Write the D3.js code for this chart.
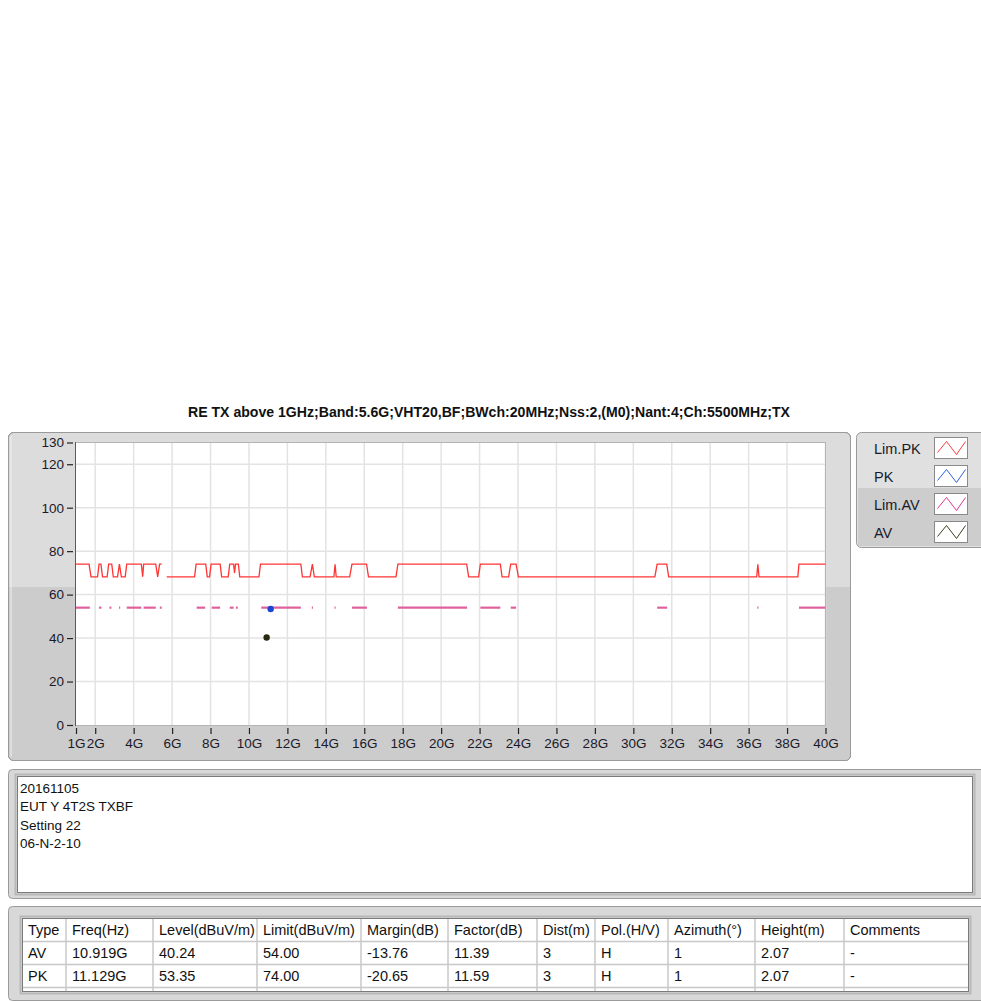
<!DOCTYPE html>
<html><head><meta charset="utf-8">
<script src="https://cdn.jsdelivr.net/npm/d3@7"></script>
<style>
html,body{margin:0;padding:0;background:#fff;}
svg{display:block;font-family:"Liberation Sans",Arial,sans-serif;}
</style></head>
<body>
<svg id="c" width="981" height="1002"></svg>
<script>
// ---------- DATA ----------
const title = "RE TX above 1GHz;Band:5.6G;VHT20,BF;BWch:20MHz;Nss:2,(M0);Nant:4;Ch:5500MHz;TX";
const xTicks = [1,2,4,6,8,10,12,14,16,18,20,22,24,26,28,30,32,34,36,38,40];
const yTicks = [0,20,40,60,80,100,120,130];
// Lim.PK trace (GHz, dBuV/m); null = gap
const limPkFreq = [1.00,1.68,1.78,2.12,2.20,2.30,2.38,2.62,2.70,2.86,2.94,3.16,3.26,3.36,3.56,3.64,4.40,4.47,4.52,5.15,5.25,5.35,5.46,5.60,
  5.72,7.17,7.25,7.75,7.83,7.95,8.03,8.50,8.58,8.92,9.00,9.20,9.25,9.30,9.45,9.52,10.52,10.60,12.70,12.78,13.18,13.30,13.40,
  14.42,14.48,14.54,15.24,15.36,16.12,16.22,17.65,17.75,21.33,21.43,21.95,22.04,23.08,23.17,23.51,23.62,23.90,24.02,
  31.12,31.24,31.74,31.84,36.42,36.48,36.54,38.56,38.62,40.00];
const limPkLevel = [74,74,68.2,68.2,74,74,68.2,68.2,74,74,68.2,68.2,74,68.2,68.2,74,74,68.2,74,74,68.2,74,74,null,
  68.2,68.2,74,74,68.2,68.2,74,74,68.2,68.2,74,74,70,74,74,68.2,68.2,74,74,68.2,68.2,74,68.2,
  68.2,74,68.2,68.2,74,74,68.2,68.2,74,74,68.2,68.2,74,74,68.2,68.2,74,74,68.2,
  68.2,74,74,68.2,68.2,74,68.2,68.2,74,74];
// Lim.AV trace segments (GHz start, GHz end) at level 54
const limAvStart = [1.00,2.20,2.74,3.24,3.64,4.52,5.36,7.28,8.06,9.00,9.32,10.64,13.27,14.45,15.36,17.75,22.04,23.62,31.24,36.45,38.62];
const limAvEnd   = [1.72,2.32,2.84,3.30,4.40,5.15,5.46,7.72,8.50,9.20,9.42,12.70,13.33,14.51,16.14,21.35,23.08,23.90,31.76,36.51,40.00];
const limAvLevel = 54;
// measured points
const pkFreq = [11.129], pkLevel = [53.35];
const avFreq = [10.919], avLevel = [40.24];
const legendNames = ["Lim.PK","PK","Lim.AV","AV"];
const legendColors = ["#ff3a3a","#2f5fe0","#e0338e","#3c3c1e"];
const notes = ["20161105","EUT Y 4T2S TXBF","Setting 22","06-N-2-10"];
const tableHeader = ["Type","Freq(Hz)","Level(dBuV/m)","Limit(dBuV/m)","Margin(dB)","Factor(dB)","Dist(m)","Pol.(H/V)","Azimuth(°)","Height(m)","Comments"];
const rowAV = ["AV","10.919G","40.24","54.00","-13.76","11.39","3","H","1","2.07","-"];
const rowPK = ["PK","11.129G","53.35","74.00","-20.65","11.59","3","H","1","2.07","-"];

// ---------- DRAW ----------
const svg = d3.select("#c");
const PL=75, PR=826, PT=442, PB=726;
const x = d3.scaleLinear().domain([1,40]).range([76,825.5]);
const y = d3.scaleLinear().domain([0,130]).range([725,442.5]);

// title
svg.append("text").attr("x",489).attr("y",417).attr("text-anchor","middle")
  .attr("font-weight","bold").attr("font-size",14).attr("fill","#111")
  .attr("textLength",602).attr("lengthAdjust","spacingAndGlyphs").text(title);

// plot panel
const panel = svg.append("g");
panel.append("rect").attr("x",8.5).attr("y",432.5).attr("width",842).attr("height",328).attr("rx",5)
  .attr("fill","#dcdcdc").attr("stroke","#9a9a9a");
panel.append("path").attr("d","M9,587 H850 V755 Q850,760 845,760 H14 Q9,760 9,755 Z").attr("fill","#cccccc");
panel.append("rect").attr("x",8.5).attr("y",432.5).attr("width",842).attr("height",328).attr("rx",5)
  .attr("fill","none").attr("stroke","#9a9a9a");
panel.append("line").attr("x1",11).attr("x2",11).attr("y1",436).attr("y2",757).attr("stroke","#f0f0f0");

// plot area
svg.append("rect").attr("x",PL).attr("y",PT).attr("width",PR-PL).attr("height",PB-PT).attr("fill","#fff");
const grid = svg.append("g").attr("stroke","#e3e3e3").attr("stroke-width",1.5);
xTicks.filter(t=>t>1).forEach(t=>grid.append("line").attr("x1",x(t)).attr("x2",x(t)).attr("y1",PT).attr("y2",PB));
yTicks.filter(t=>t>0&&t<130).forEach(t=>grid.append("line").attr("x1",PL).attr("x2",PR).attr("y1",y(t)).attr("y2",y(t)));
svg.append("rect").attr("x",PL+0.5).attr("y",PT+0.5).attr("width",PR-PL-1).attr("height",PB-PT-1)
  .attr("fill","none").attr("stroke","#b4b4b4");
svg.append("line").attr("x1",PL+0.5).attr("x2",PL+0.5).attr("y1",PT).attr("y2",PB).attr("stroke","#5a5a5a");

// axes
const yAxis = d3.axisLeft(y).tickValues(yTicks).tickSize(6).tickPadding(3).tickFormat(d3.format("d"));
const gy = svg.append("g").attr("transform",`translate(${PL-2},0)`).call(yAxis);
gy.select(".domain").remove();
gy.selectAll("line").attr("stroke","#222").attr("stroke-width",1.2);
gy.selectAll("text").attr("font-size",13.5).attr("fill","#1a1a2a").attr("font-family","Liberation Sans, Arial, sans-serif");

const xAxis = d3.axisBottom(x).tickValues(xTicks).tickSize(6).tickPadding(4).tickFormat(d=>d+"G");
const gx = svg.append("g").attr("transform",`translate(0,${PB+2})`).call(xAxis);
gx.select(".domain").remove();
gx.selectAll("line").attr("stroke","#222").attr("stroke-width",1.2);
gx.selectAll("text").attr("font-size",13.5).attr("fill","#1a1a2a").attr("font-family","Liberation Sans, Arial, sans-serif");

// clip
svg.append("clipPath").attr("id","pc").append("rect").attr("x",PL+1).attr("y",PT).attr("width",PR-PL-1).attr("height",PB-PT);
const plot = svg.append("g").attr("clip-path","url(#pc)");

// Lim.AV segments
const avSegs = limAvStart.map((s,i)=>[[s,limAvLevel],[limAvEnd[i],limAvLevel]]);
const segLine = d3.line().x(d=>x(d[0])).y(d=>y(d[1]));
plot.selectAll(".av").data(avSegs).join("path").attr("d",segLine)
  .attr("stroke","#e0609e").attr("stroke-width",2.2).attr("fill","none");

// Lim.PK line
const pkData = limPkFreq.map((f,i)=>[f,limPkLevel[i]]);
const pkLine = d3.line().defined(d=>d[1]!=null).x(d=>x(d[0])).y(d=>y(d[1]));
plot.append("path").datum(pkData).attr("d",pkLine).attr("fill","none")
  .attr("stroke","#ff3535").attr("stroke-width",1.3);

// points
plot.selectAll(".pk").data(pkFreq).join("circle").attr("cx",d=>x(d)).attr("cy",(d,i)=>y(pkLevel[i]))
  .attr("r",3.2).attr("fill","#1a47d6");
plot.selectAll(".avp").data(avFreq).join("circle").attr("cx",d=>x(d)).attr("cy",(d,i)=>y(avLevel[i]))
  .attr("r",3.2).attr("fill","#2a2a10");

// legend
const lg = svg.append("g");
lg.append("rect").attr("x",856.5).attr("y",432.5).attr("width",135).attr("height",115).attr("rx",5)
  .attr("fill","#e0e0e0").attr("stroke","#9a9a9a");
lg.append("rect").attr("x",858).attr("y",488).attr("width",130).attr("height",58).attr("fill","#cdcdcd");
legendNames.forEach((n,i)=>{
  const cy = 449 + i*28;
  lg.append("text").attr("x",874).attr("y",cy+5).attr("font-size",14.5).attr("fill","#1a1a2a").text(n);
  const bx=934.5, by=cy-11.5;
  lg.append("rect").attr("x",bx).attr("y",by).attr("width",33).attr("height",21).attr("fill","#fff").attr("stroke","#8a8a8a");
  lg.append("path").attr("d",`M${bx+3},${by+15} L${bx+12},${by+4} L${bx+22},${by+17} L${bx+31},${by+4}`)
    .attr("fill","none").attr("stroke",legendColors[i]).attr("stroke-width",1);
});

// notes panel
svg.append("rect").attr("x",8.5).attr("y",769.5).attr("width",980).attr("height",129).attr("rx",4)
  .attr("fill","#d8d8d8").attr("stroke","#9a9a9a");
svg.append("rect").attr("x",15.5).attr("y",774.5).attr("width",959).attr("height",120)
  .attr("fill","none").attr("stroke","#b8b8b8").attr("stroke-width",2);
svg.append("rect").attr("x",17.5).attr("y",776.5).attr("width",955).attr("height",116)
  .attr("fill","#fff").attr("stroke","#7a7a7a");
notes.forEach((t,i)=>svg.append("text").attr("x",20).attr("y",793+i*18.4).attr("font-size",13.5).attr("fill","#111").text(t));

// table panel
svg.append("rect").attr("x",8.5).attr("y",906.5).attr("width",980).attr("height",94).attr("rx",4)
  .attr("fill","#d8d8d8").attr("stroke","#9a9a9a");
svg.append("rect").attr("x",20.5).attr("y",916.5).attr("width",950).attr("height",77)
  .attr("fill","none").attr("stroke","#b8b8b8").attr("stroke-width",2);
svg.append("rect").attr("x",22).attr("y",918).attr("width",947).attr("height",74).attr("fill","#fff");
const colX = [22,66,153,257,361,448,537,595,668,755,844,969];
const rowY = [918,941.5,964.5,987.5];
const tg = svg.append("g").attr("stroke","#c8c8c8").attr("stroke-width",1.5);
colX.slice(1,-1).forEach(cx=>tg.append("line").attr("x1",cx).attr("x2",cx).attr("y1",918).attr("y2",992));
rowY.slice(1).forEach(ry=>tg.append("line").attr("x1",22).attr("x2",969).attr("y1",ry).attr("y2",ry));
svg.append("rect").attr("x",22.5).attr("y",918.5).attr("width",946).attr("height",73).attr("fill","none").attr("stroke","#7a7a7a");
[tableHeader,rowAV,rowPK].forEach((row,ri)=>{
  row.forEach((t,ci)=>svg.append("text").attr("x",colX[ci]+6).attr("y",935+ri*23)
    .attr("font-size",14.5).attr("fill","#111").text(t));
});
</script>
</body></html>
